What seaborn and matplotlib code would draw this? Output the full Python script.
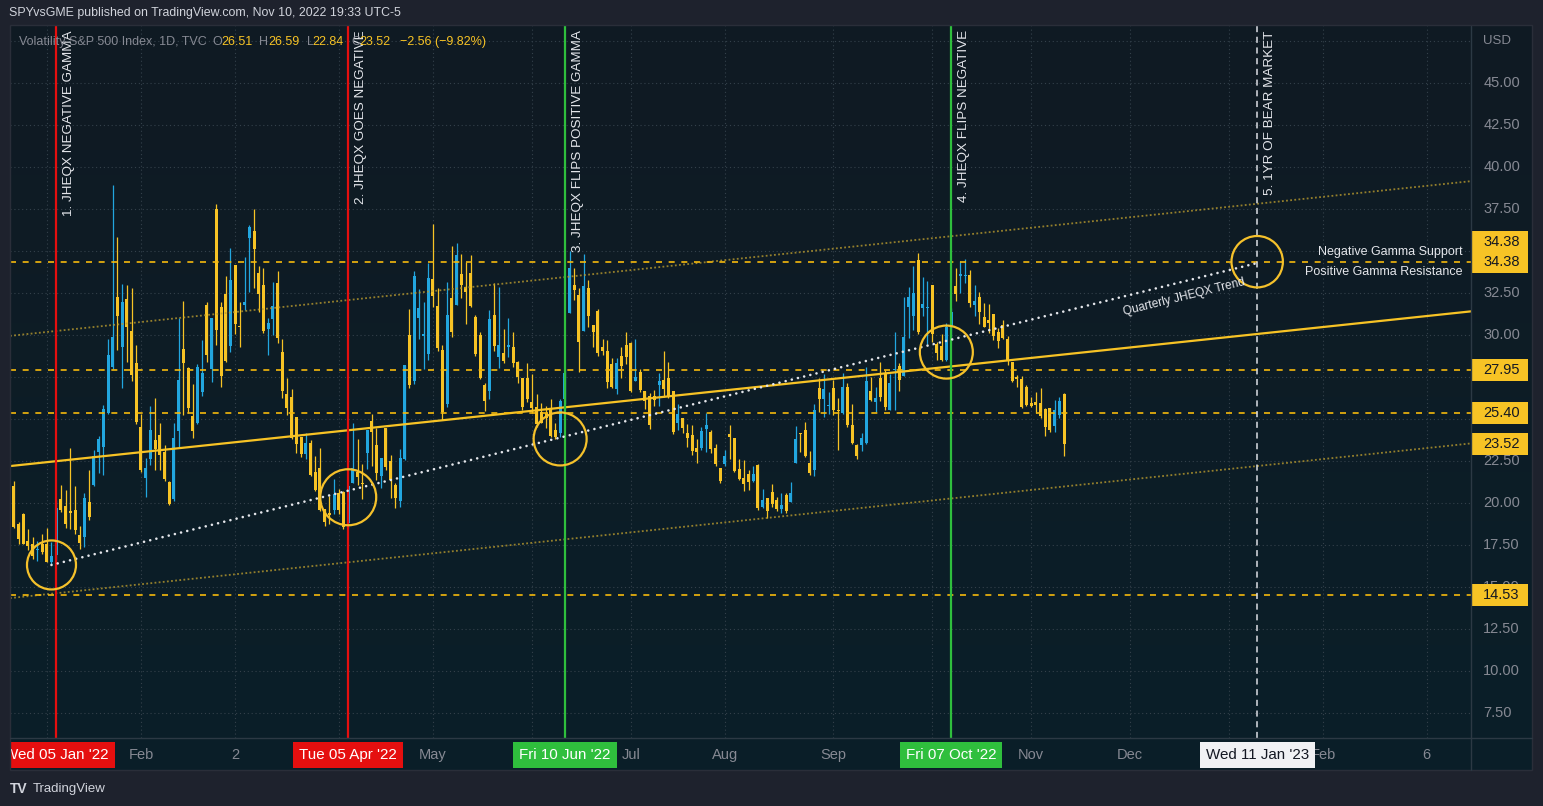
import numpy as np
import pandas as pd
import matplotlib
matplotlib.use("Agg")
import matplotlib.pyplot as plt
import seaborn as sns
from matplotlib.patches import Ellipse, Rectangle
from matplotlib.colors import LinearSegmentedColormap
from matplotlib.lines import Line2D

# VIX daily candles (open, high, low, close)
dec21 = [(21.00, 21.33, 18.55, 18.60), (18.75, 18.90, 17.60, 17.90), (19.36, 19.40, 17.55, 17.60),
         (17.76, 18.45, 17.22, 17.46), (17.58, 18.00, 16.70, 16.88), (17.22, 17.76, 16.59, 17.28),
         (17.58, 18.20, 17.00, 17.08)]
jan22 = [(17.58, 18.50, 16.49, 16.53), (16.53, 17.72, 16.33, 16.86), (16.90, 20.20, 16.60, 19.73),
         (20.24, 21.10, 19.50, 19.61), (19.84, 20.80, 18.50, 18.76), (19.56, 23.27, 18.45, 19.40),
         (19.60, 21.00, 18.20, 18.41), (18.10, 18.65, 17.30, 17.62), (18.00, 20.60, 17.40, 20.31),
         (20.08, 22.00, 19.00, 19.19), (21.09, 23.20, 21.05, 22.79), (23.07, 24.00, 21.80, 23.85),
         (23.37, 25.85, 21.70, 25.59), (25.36, 29.80, 25.30, 28.85), (28.13, 38.94, 27.97, 29.90),
         (32.28, 35.87, 29.13, 31.16), (29.32, 33.05, 26.84, 31.96), (32.16, 33.00, 28.43, 30.49),
         (30.26, 32.80, 27.30, 27.66), (28.35, 29.40, 24.72, 24.83)]
feb22 = [(24.54, 25.30, 21.88, 21.96), (21.53, 22.70, 20.40, 22.09), (22.62, 25.79, 22.28, 24.35),
         (23.77, 26.25, 22.00, 23.22), (24.07, 24.76, 21.98, 22.86), (23.05, 23.45, 21.30, 21.44),
         (21.27, 21.30, 19.90, 19.96), (20.26, 24.76, 20.14, 23.91), (24.32, 31.00, 23.27, 27.36),
         (29.18, 32.04, 25.26, 28.33), (28.05, 28.10, 25.40, 25.70), (25.20, 27.10, 23.90, 24.29),
         (24.80, 28.30, 24.70, 28.11), (26.60, 29.70, 26.40, 27.75), (31.80, 32.00, 28.40, 28.81),
         (28.00, 31.00, 27.20, 31.02), (37.50, 37.79, 29.40, 30.32), (31.67, 32.00, 26.94, 27.59),
         (32.46, 33.50, 28.40, 28.45)]
mar22 = [(29.38, 35.18, 29.00, 33.32), (34.19, 34.20, 30.10, 30.67), (30.52, 31.96, 29.32, 30.48),
         (31.80, 34.64, 31.50, 31.98), (35.81, 36.57, 32.60, 36.45), (36.21, 37.52, 32.80, 35.13),
         (33.71, 34.13, 31.41, 32.45), (32.99, 34.01, 30.12, 30.23), (30.38, 31.03, 28.83, 30.75),
         (30.97, 33.17, 30.02, 31.77), (33.11, 33.83, 29.56, 29.83), (29.01, 29.78, 26.29, 26.67),
         (26.51, 27.44, 25.26, 25.67), (26.33, 26.80, 23.81, 23.87), (25.14, 25.14, 23.01, 23.53),
         (23.97, 23.97, 22.75, 22.94), (22.93, 24.17, 22.66, 23.57), (23.59, 23.77, 21.63, 21.67),
         (21.86, 22.82, 20.75, 20.81), (22.10, 23.29, 19.56, 19.63), (19.68, 19.68, 18.65, 18.90),
         (19.40, 20.46, 18.77, 19.33), (19.60, 21.45, 19.36, 20.56)]
apr22 = [(20.59, 20.85, 19.36, 19.63), (20.69, 20.75, 18.45, 18.57), (18.80, 21.10, 18.50, 21.03),
         (21.23, 24.76, 21.20, 22.10), (21.88, 23.83, 21.09, 21.55), (21.20, 22.34, 20.24, 21.16),
         (23.01, 24.36, 22.04, 24.37), (24.90, 25.34, 22.22, 24.26), (23.45, 24.46, 21.39, 21.82),
         (21.65, 22.70, 20.89, 22.70), (24.50, 24.50, 21.98, 22.17), (22.52, 22.88, 20.30, 21.37),
         (21.09, 21.19, 19.74, 20.32), (20.14, 23.23, 19.80, 22.68), (22.64, 28.23, 22.60, 28.21),
         (30.02, 31.57, 26.84, 27.02), (27.28, 33.83, 27.08, 33.52), (31.01, 32.76, 29.78, 31.60),
         (29.98, 31.96, 27.99, 29.99), (28.89, 34.32, 28.53, 33.40)]
may22 = [(33.35, 36.63, 31.70, 32.34), (31.74, 32.80, 29.08, 29.25), (29.13, 29.42, 24.96, 25.42),
         (25.92, 33.15, 25.75, 31.20), (32.22, 35.32, 29.88, 30.19), (31.80, 35.47, 31.80, 34.75),
         (33.65, 34.84, 32.24, 32.99), (32.86, 34.34, 30.67, 32.56), (33.71, 34.78, 31.70, 31.77),
         (31.07, 31.21, 28.79, 28.87), (30.02, 30.18, 27.40, 27.47), (27.04, 27.14, 25.52, 26.10),
         (26.70, 31.51, 26.21, 30.96), (31.21, 33.10, 29.07, 29.35), (28.73, 32.90, 28.07, 29.43),
         (28.97, 30.38, 28.33, 28.48), (29.30, 31.05, 28.73, 29.45), (29.32, 30.18, 28.13, 28.37),
         (28.39, 28.49, 27.14, 27.50), (27.48, 27.48, 25.55, 25.72), (27.44, 28.33, 26.01, 26.19)]
jun22 = [(26.01, 27.70, 25.36, 25.69), (25.71, 26.51, 24.56, 24.72), (25.41, 25.99, 24.75, 24.79),
         (25.40, 25.79, 24.46, 25.07), (25.55, 26.21, 23.97, 24.02), (24.36, 24.76, 23.81, 23.96),
         (24.20, 26.21, 23.97, 26.09), (26.20, 28.00, 25.90, 27.75), (31.35, 35.02, 31.35, 34.02),
         (32.99, 34.03, 32.10, 32.69), (32.40, 32.80, 27.80, 29.62), (30.28, 34.84, 30.28, 32.95),
         (32.82, 33.29, 30.48, 31.13), (30.61, 30.61, 29.32, 30.19), (31.45, 31.57, 28.79, 28.95),
         (29.32, 29.78, 28.83, 29.05), (29.07, 29.72, 26.84, 27.23), (28.29, 28.63, 26.88, 26.95),
         (26.80, 28.63, 26.49, 28.36), (28.77, 29.32, 27.48, 28.16), (29.42, 30.18, 28.29, 28.71)]
jul22 = [(29.52, 29.58, 26.65, 26.70), (27.30, 29.78, 27.30, 27.54), (27.80, 27.98, 26.65, 26.73),
         (26.69, 26.69, 25.61, 26.08), (26.39, 26.55, 24.42, 24.64), (26.39, 26.74, 25.81, 26.17),
         (27.04, 27.74, 25.81, 27.29), (27.34, 29.07, 26.35, 26.82), (27.48, 28.43, 26.25, 26.40),
         (26.69, 26.69, 24.13, 24.23), (24.76, 25.91, 24.36, 25.30), (25.10, 25.10, 24.17, 24.50),
         (24.20, 24.72, 23.33, 23.88), (24.07, 24.66, 22.88, 23.11), (23.31, 23.83, 22.42, 23.03),
         (23.31, 24.56, 23.20, 24.30), (24.42, 25.36, 23.07, 24.69), (24.26, 24.36, 23.01, 23.24),
         (23.31, 23.53, 22.22, 22.33), (22.12, 22.12, 21.23, 21.33)]
aug22 = [(22.34, 23.20, 22.22, 22.84), (24.10, 24.66, 22.64, 23.93), (23.87, 23.90, 21.88, 21.95),
         (22.04, 22.64, 21.39, 21.44), (21.49, 22.58, 20.75, 21.15), (21.74, 21.98, 20.79, 21.29),
         (21.35, 22.22, 21.29, 21.77), (22.28, 22.34, 19.60, 19.74), (19.80, 20.85, 19.70, 20.20),
         (20.30, 20.30, 19.11, 19.53), (20.69, 21.15, 19.80, 19.95), (20.20, 20.36, 19.54, 19.69),
         (19.66, 20.59, 19.40, 19.90), (20.50, 20.63, 19.40, 19.56), (20.10, 21.25, 20.10, 20.60),
         (22.38, 24.60, 22.38, 23.80), (24.17, 24.17, 23.07, 24.11), (24.36, 24.82, 22.74, 22.82),
         (22.40, 23.11, 21.68, 21.78), (21.98, 25.91, 21.63, 25.56), (26.84, 27.44, 25.45, 26.21),
         (26.21, 27.70, 25.16, 26.83), (25.80, 26.64, 25.32, 25.87)]
sep22 = [(26.84, 27.34, 25.26, 25.56), (25.50, 26.25, 23.17, 25.47), (25.36, 27.74, 25.32, 26.91),
         (26.90, 27.14, 24.56, 24.64), (24.66, 25.89, 23.53, 23.61), (23.47, 23.53, 22.64, 22.79),
         (23.47, 24.17, 23.11, 23.87), (23.57, 28.10, 23.53, 27.27), (26.69, 27.54, 26.09, 26.16),
         (26.01, 26.90, 25.41, 26.27), (27.48, 28.39, 26.11, 26.30), (27.74, 27.94, 25.55, 25.76),
         (25.55, 27.70, 25.55, 27.16), (27.94, 30.18, 25.55, 27.99), (28.17, 28.33, 26.69, 27.35),
         (27.60, 32.30, 27.60, 29.92), (31.70, 32.90, 29.86, 32.26), (31.17, 34.13, 30.32, 32.50),
         (34.48, 34.88, 30.06, 30.18), (31.65, 33.45, 31.17, 31.84), (31.60, 33.23, 29.46, 31.62)]
oct22 = [(33.00, 33.00, 29.58, 30.10), (29.48, 29.62, 28.53, 28.95), (29.36, 30.08, 28.47, 28.55),
         (28.53, 30.71, 28.47, 30.52), (30.50, 31.60, 29.80, 31.36), (32.94, 33.99, 32.04, 32.45),
         (33.55, 34.44, 32.50, 33.63), (33.50, 34.54, 33.13, 33.57), (33.59, 33.89, 31.67, 31.94),
         (31.80, 32.99, 31.17, 32.02), (32.26, 32.56, 30.67, 31.37), (31.07, 31.90, 30.48, 30.50),
         (30.91, 31.84, 30.12, 30.76), (31.27, 31.27, 29.72, 29.98), (30.18, 30.42, 29.26, 29.69),
         (30.61, 30.91, 29.78, 29.85), (29.78, 29.96, 28.23, 28.46), (28.39, 28.43, 27.24, 27.28),
         (27.54, 27.64, 26.94, 27.39), (27.40, 27.58, 25.69, 25.75), (26.90, 27.04, 25.81, 25.88)]
nov22 = [(25.99, 26.35, 25.71, 25.81), (26.05, 26.65, 25.36, 25.86), (25.99, 26.84, 25.06, 25.20),
         (25.63, 25.69, 24.00, 24.55), (25.69, 25.69, 24.26, 24.35), (24.62, 26.15, 24.26, 25.54),
         (25.26, 26.35, 25.06, 26.08), (26.51, 26.59, 22.84, 23.52)]

# exchange holidays (no bars) and the drawn overlays
holidays = ["2021-12-24", "2022-01-17", "2022-02-21", "2022-04-15", "2022-05-30", "2022-06-20",
            "2022-07-04", "2022-09-05", "2022-11-24", "2022-12-26", "2023-01-02", "2023-01-16",
            "2023-02-20"]
h_levels = [34.38, 27.95, 25.40, 14.53]
channel_dates = ["2021-12-22", "2022-11-10"]
trend_mid = [22.24, 28.86]
trend_up = [29.99, 36.61]
trend_low = [14.38, 21.00]
quarterly_dates = ["2022-01-04", "2023-01-11"]
quarterly_vals = [16.33, 34.30]
circles = [("2022-01-04", 16.33, 24.5), ("2022-04-05", 20.36, 28), ("2022-06-09", 23.83, 26.5),
           ("2022-10-06", 29.00, 26.5), ("2023-01-11", 34.38, 25.7)]
events = [("2022-01-05", "1. JHEQX NEGATIVE GAMMA", "Wed 05 Jan '22", "red"),
          ("2022-04-05", "2. JHEQX GOES NEGATIVE", "Tue 05 Apr '22", "red"),
          ("2022-06-10", "3. JHEQX FLIPS POSITIVE GAMMA", "Fri 10 Jun '22", "green"),
          ("2022-10-07", "4. JHEQX FLIPS NEGATIVE", "Fri 07 Oct '22", "green"),
          ("2023-01-11", "5. 1YR OF BEAR MARKET", "Wed 11 Jan '23", "white")]
# month grid lines; labels that sit under the event boxes are left blank
month_ticks = [("2022-01-03", ""), ("2022-02-01", "Feb"), ("2022-03-02", "2"), ("2022-04-01", ""),
               ("2022-05-02", "May"), ("2022-06-01", ""), ("2022-07-01", "Jul"), ("2022-08-01", "Aug"),
               ("2022-09-01", "Sep"), ("2022-10-03", ""), ("2022-11-01", "Nov"), ("2022-12-01", "Dec"),
               ("2023-01-03", ""), ("2023-02-01", "Feb"), ("2023-03-06", "6")]
price_ticks = np.arange(7.5, 45.01, 2.5)

# ---------------------------------------------------------------------------
sns.set_theme(style="dark")
plt.rcParams["font.family"] = ["Liberation Sans", "DejaVu Sans"]

candles = pd.DataFrame(dec21 + jan22 + feb22 + mar22 + apr22 + may22 + jun22 + jul22 + aug22
                       + sep22 + oct22 + nov22, columns=["o", "h", "l", "c"])
cal = pd.bdate_range("2021-12-22", "2023-03-31", freq="C", holidays=holidays)
pos = {d.strftime("%Y-%m-%d"): i for i, d in enumerate(cal)}
candles["i"] = np.arange(len(candles))

YEL = "#f7c325"
BLUE = "#22a6df"
GRAY = "#868993"
WHITE = "#e4e6eb"
REDC = "#e50f0f"
GREENC = "#2fbf3d"
col_map = {"red": REDC, "green": GREENC, "white": "#f0f1f4"}

W, H = 1543, 806


def rect(x0, y0, x1, y1):
    return [x0 / W, 1 - y1 / H, (x1 - x0) / W, (y1 - y0) / H]


XLIM = (-0.81, 309.4)
YLIM = (6.03, 48.41)
PX_BAR = 1461 / (XLIM[1] - XLIM[0])
PX_VAL = 712 / (YLIM[1] - YLIM[0])

fig = plt.figure(figsize=(W / 100, H / 100), dpi=100, facecolor="#1e222d")

# panel background with a slight vertical gradient
bg = fig.add_axes(rect(10, 25, 1532, 770))
grad = np.linspace(0, 1, 256).reshape(-1, 1)
bg.imshow(grad, aspect="auto", extent=[0, 1, 0, 1], origin="upper",
          cmap=LinearSegmentedColormap.from_list("bg", ["#101a23", "#0a1f29"]))
bg.set_axis_off()

ax = fig.add_axes(rect(10, 26, 1471, 738))
ax.set_facecolor("none")

# grid
for v in np.arange(7.5, 48.5, 2.5):
    ax.axhline(v, color="#34414b", lw=0.8, ls=(0, (1, 2.5)), zorder=0.5)
for d, _ in month_ticks:
    ax.axvline(pos[d], color="#34414b", lw=0.8, ls=(0, (1, 2.5)), zorder=0.5)

# candles
up = candles["c"] >= candles["o"]
colors = np.where(up, BLUE, YEL)
ax.vlines(candles["i"], candles["l"], candles["h"], colors=colors, lw=0.9, zorder=2)
ax.bar(candles["i"], np.maximum((candles["c"] - candles["o"]).abs(), 0.07),
       bottom=np.minimum(candles["o"], candles["c"]), width=0.64, color=colors, lw=0, zorder=2.1)

# channel and trend lines
x0, x1 = pos[channel_dates[0]], pos[channel_dates[1]]
for vals in (trend_up, trend_low):
    ax.axline((x0, vals[0]), (x1, vals[1]), color="#b89a2e", alpha=0.8, lw=1.3,
              ls=(0, (1, 1.3)), zorder=3)
ax.axline((x0, trend_mid[0]), (x1, trend_mid[1]), color=YEL, lw=1.6, zorder=3.2)

qdf = pd.DataFrame({"i": [pos[d] for d in quarterly_dates], "v": quarterly_vals})
sns.lineplot(data=qdf, x="i", y="v", ax=ax, color=WHITE, linewidth=1.9,
             linestyle=(0, (0.01, 2.4)), zorder=6, legend=False)
ax.lines[-1].set_dash_capstyle("round")
ax.set_xlim(XLIM)
ax.set_ylim(YLIM)
ax.set_axis_off()
ax.text(248.4, 32.28, "Quarterly JHEQX Trend", rotation=14, rotation_mode="anchor",
        ha="center", va="center", fontsize=8.6, color=WHITE, zorder=7)

# horizontal levels
for v in h_levels:
    ax.axhline(v, color="#f5b90c", lw=1.2, ls=(0, (3.6, 4)), zorder=3.5)

ax.annotate("Negative Gamma Support", xy=(1, h_levels[0]), xycoords=("axes fraction", "data"),
            xytext=(-6, 7.3), textcoords="offset points", ha="right", va="center",
            fontsize=9, color=WHITE, zorder=7)
ax.annotate("Positive Gamma Resistance", xy=(1, h_levels[0]), xycoords=("axes fraction", "data"),
            xytext=(-6, -7.3), textcoords="offset points", ha="right", va="center",
            fontsize=9, color=WHITE, zorder=7)

# circles around the turning points
for d, v, r in circles:
    ax.add_patch(Ellipse((pos[d], v), 2 * r / PX_BAR, 2 * r / PX_VAL, fill=False,
                         ec="#f5c12b", lw=1.6, zorder=6))

# event lines with vertical notes
for d, note, _, kind in events:
    if kind == "white":
        ax.axvline(pos[d], color="#dcdfe5", lw=1.1, ls=(0, (4, 3)), zorder=5)
    else:
        ax.axvline(pos[d], color=col_map[kind], lw=1.6, zorder=5)
    ax.annotate(note, xy=(pos[d], 1), xycoords=("data", "axes fraction"), xytext=(5, -3),
                textcoords="offset points", rotation=90, ha="left", va="top",
                fontsize=9.7, color=WHITE, zorder=7)

# time scale
tax = fig.add_axes(rect(10, 738, 1471, 770))
tax.set_xlim(XLIM)
tax.set_ylim(0, 1)
tax.set_axis_off()
for d, lab in month_ticks:
    if lab:
        tax.text(pos[d], 0.47, lab, ha="center", va="center", fontsize=10.5, color=GRAY,
                 clip_on=True)
for d, _, lab, kind in events:
    fc = col_map[kind]
    tc = "#131722" if kind == "white" else "white"
    tax.text(pos[d], 0.47, lab, ha="center", va="center", fontsize=10.9, color=tc, clip_on=True,
             zorder=5, bbox=dict(boxstyle="square,pad=0.4", fc=fc, ec="none"))

# price scale
pax = fig.add_axes(rect(1471, 26, 1532, 738))
pax.set_xlim(0, 1)
pax.set_ylim(YLIM)
pax.set_axis_off()
for v in price_ticks:
    pax.text(0.2, v, f"{v:.2f}", ha="left", va="center", fontsize=10.5, color=GRAY)
box_h = 22 / PX_VAL
last_close = candles["c"].iloc[-1]
boxes = [(h_levels[0] + 20 / PX_VAL, h_levels[0]), (h_levels[0], h_levels[0]),
         (h_levels[1], h_levels[1]), (h_levels[2], h_levels[2]), (last_close, last_close),
         (h_levels[3], h_levels[3])]
for yc, val in boxes:
    pax.add_patch(Rectangle((0, yc - box_h / 2), 0.934, box_h, fc=YEL, ec="none", zorder=4))
    pax.text(0.2, yc, f"{val:.2f}", ha="left", va="center", fontsize=10.5, color="#131722", zorder=5)

# frame lines
for xa, ya, xb, yb in [(1471, 26, 1471, 770), (10, 738, 1532, 738)]:
    fig.add_artist(Line2D([xa / W, xb / W], [1 - ya / H, 1 - yb / H], color="#2c3944", lw=1))
fig.add_artist(Rectangle((10 / W, 1 - 770 / H), 1522 / W, 745 / H, transform=fig.transFigure,
                         fill=False, ec="#2a2e39", lw=1))

# header, legend line and footer
fig.text(9 / W, 1 - 13 / H, "SPYvsGME published on TradingView.com, Nov 10, 2022 19:33 UTC-5",
         ha="left", va="center", fontsize=8.9, color="#d1d4dc")
fig.text(1483 / W, 1 - 41 / H, "USD", ha="left", va="center", fontsize=9.5, color=GRAY)
last = candles.iloc[-1]
chg = last["c"] - candles["c"].iloc[-2]
pct = chg / candles["c"].iloc[-2] * 100
legend_parts = [(18.6, "Volatility S&P 500 Index, 1D, TVC", GRAY), (212.6, "O", GRAY),
                (221.3, f"{last['o']:.2f}", YEL), (258.9, "H", GRAY), (268.0, f"{last['h']:.2f}", YEL),
                (307.5, "L", GRAY), (312.3, f"{last['l']:.2f}", YEL), (351.0, "C", GRAY),
                (359.7, f"{last['c']:.2f}", YEL),
                (400.0, f"{chg:.2f} ({pct:.2f}%)".replace("-", "\u2212"), YEL)]
for xp, s, c in legend_parts:
    fig.text(xp / W, 1 - 42 / H, s, ha="left", va="center", fontsize=9, color=c)

fig.text(10 / W, 1 - 789 / H, "TV", ha="left", va="center", fontsize=10, weight="bold", color="#d1d4dc")
fig.text(33 / W, 1 - 789 / H, "TradingView", ha="left", va="center", fontsize=9.5, color="#d1d4dc")

fig.savefig("out.png", dpi=100, facecolor=fig.get_facecolor())
